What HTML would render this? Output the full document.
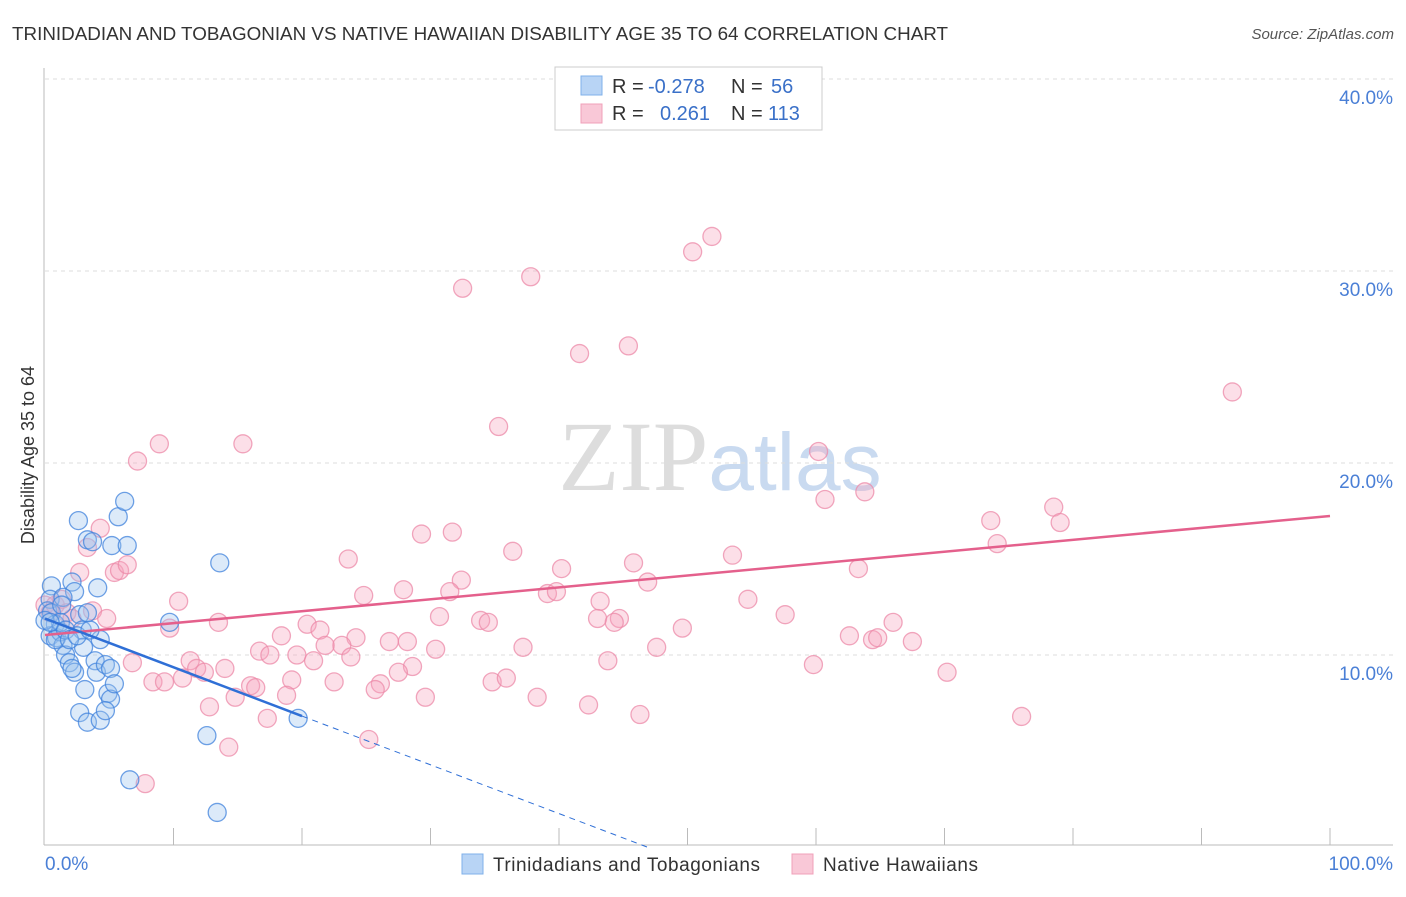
<!DOCTYPE html>
<html><head><meta charset="utf-8"><style>
body{margin:0;background:#fff;font-family:"Liberation Sans",sans-serif;}
svg text{font-family:"Liberation Sans",sans-serif;}
</style></head><body>
<svg id="chart" width="1406" height="892" xmlns="http://www.w3.org/2000/svg">
<text x="12" y="40" font-size="18" fill="#333" textLength="936" lengthAdjust="spacingAndGlyphs">TRINIDADIAN AND TOBAGONIAN VS NATIVE HAWAIIAN DISABILITY AGE 35 TO 64 CORRELATION CHART</text>
<text x="1394" y="39" font-size="15" fill="#555" font-style="italic" text-anchor="end">Source: ZipAtlas.com</text>
<text x="720" y="490" font-size="100" text-anchor="middle"><tspan fill="#ddd" font-family="Liberation Serif">ZIP</tspan><tspan fill="#c9daf0" font-size="82">atlas</tspan></text>
<text transform="translate(34,455) rotate(-90)" font-size="18" fill="#333" text-anchor="middle">Disability Age 35 to 64</text>
<g id="grid"></g><g id="axes"></g><g id="marks"></g><g id="trends"></g>
<g>
<rect x="555" y="67" width="267" height="63" fill="#fff" stroke="#ccc"/>
<rect x="581" y="76" width="21" height="19" fill="#b8d4f5" stroke="#7fb0ea"/>
<rect x="581" y="104" width="21" height="19" fill="#f9c8d7" stroke="#f0a0ba"/>
<text x="612" y="93" font-size="20" fill="#333">R = <tspan fill="#3a70c8" x="648">-0.278</tspan><tspan x="731">N = </tspan><tspan fill="#3a70c8" x="771">56</tspan></text>
<text x="612" y="120" font-size="20" fill="#333">R = <tspan fill="#3a70c8" x="660">0.261</tspan><tspan x="731">N = </tspan><tspan fill="#3a70c8" x="768">113</tspan></text>
</g>
<g>
<rect x="462" y="854" width="21" height="20" fill="#b8d4f5" stroke="#7fb0ea"/>
<text x="493" y="871" font-size="19" fill="#333" textLength="267">Trinidadians and Tobagonians</text>
<rect x="792" y="854" width="21" height="20" fill="#f9c8d7" stroke="#f0a0ba"/>
<text x="823" y="871" font-size="19" fill="#333" textLength="155">Native Hawaiians</text>
</g>
</svg>
<script>
const yTicks=[10,20,30,40];
const yTickLabels=["10.0%","20.0%","30.0%","40.0%"];
const xTickLabels=["0.0%","100.0%"];
const blueX=[0.5,0.4,0.2,0.5,0.8,0.4,0.9,1.2,1.4,1.6,1.9,2.3,2.1,2.6,3.3,3.7,5.7,6.2,5.2,6.4,2.1,2.3,1.4,1.3,2.7,2.9,3.3,4.1,4.3,3.0,3.9,4.0,4.7,5.1,3.1,4.9,5.1,5.4,2.7,3.3,4.3,4.7,9.7,13.6,12.6,6.6,13.4,19.7,1.2,0.8,0,0.4,1.6,1.9,2.5,3.5];
const blueY=[13.6,12.9,12.3,12.2,11.6,11.0,10.9,11.2,10.5,10.0,9.6,9.1,9.3,17.0,16.0,15.9,17.2,18.0,15.7,15.7,13.8,13.3,13.0,12.6,12.1,11.3,12.2,13.5,10.8,10.4,9.7,9.1,9.5,9.3,8.2,8.0,7.7,8.5,7.0,6.5,6.6,7.1,11.7,14.8,5.8,3.5,1.8,6.7,11.7,10.8,11.8,11.7,11.3,10.8,11.0,11.3];
const pinkX=[0,0.4,0.8,1.3,1.7,2.1,2.7,3.3,4.3,5.4,5.8,6.4,3.7,4.8,8.9,7.2,15.4,32.5,37.8,50.4,51.9,41.6,45.4,92.4,35.3,60.2,60.7,63.8,73.6,78.5,79.0,74.1,29.3,31.7,36.4,23.6,40.2,45.8,53.5,63.3,32.4,27.9,24.8,31.5,39.1,39.8,46.9,43.2,54.7,57.6,10.4,13.5,9.7,20.4,21.4,18.4,30.7,33.9,34.5,43.0,44.7,44.3,49.6,66.0,62.6,64.4,64.8,67.5,26.8,28.2,24.2,23.1,21.8,16.7,17.5,19.6,20.9,23.8,30.4,37.2,47.6,11.3,11.8,14.0,12.4,6.8,10.7,19.2,22.5,16.0,16.4,8.4,9.3,26.1,28.6,27.5,34.8,35.9,59.8,70.2,25.7,18.8,12.8,14.8,17.3,29.6,38.3,42.3,46.3,76.0,25.2,14.3,7.8,43.8];
const pinkY=[12.6,12.2,12.6,12.9,12.2,11.9,14.3,15.6,16.6,14.3,14.4,14.7,12.3,11.9,21.0,20.1,21.0,29.1,29.7,31.0,31.8,25.7,26.1,23.7,21.9,20.6,18.1,18.5,17.0,17.7,16.9,15.8,16.3,16.4,15.4,15.0,14.5,14.8,15.2,14.5,13.9,13.4,13.1,13.3,13.2,13.3,13.8,12.8,12.9,12.1,12.8,11.7,11.4,11.6,11.3,11.0,12.0,11.8,11.7,11.9,11.9,11.7,11.4,11.7,11.0,10.8,10.9,10.7,10.7,10.7,10.9,10.5,10.5,10.2,10.0,10.0,9.7,9.9,10.3,10.4,10.4,9.7,9.3,9.3,9.1,9.6,8.8,8.7,8.6,8.4,8.3,8.6,8.6,8.5,9.4,9.1,8.6,8.8,9.5,9.1,8.2,7.9,7.3,7.8,6.7,7.8,7.8,7.4,6.9,6.8,5.6,5.2,3.3,9.7];
const blueTrend=[11.9,-0.254];
const pinkTrend=[11.04,0.062];
const NS="http://www.w3.org/2000/svg";
const X=v=>45+v*12.85, Y=v=>847-v*19.2;
function mk(tag,attrs,parent){const e=document.createElementNS(NS,tag);for(const k in attrs)e.setAttribute(k,attrs[k]);document.getElementById(parent).appendChild(e);return e;}
yTicks.forEach((t,i)=>{
 const l=mk('line',{x1:45,x2:1393,y1:Y(t),y2:Y(t),stroke:'#ddd','stroke-dasharray':'4,4'},'grid');
 
 
 const tx=mk('text',{x:1393,y:Y(t)+25,'font-size':19,fill:'#4a7fd6','text-anchor':'end'},'axes');
 tx.textContent=yTickLabels[i];
 
 
});
const ax=mk('line',{x1:44,x2:44,y1:68,y2:845,stroke:'#bbb'},'axes');


const bx=mk('line',{x1:44,x2:1393,y1:845,y2:845,stroke:'#bbb'},'axes');


for(let i=1;i<=10;i++){const tk=mk('line',{x1:X(i*10),x2:X(i*10),y1:828,y2:845,stroke:'#bbb'},'axes');
 
 }
[[0,45,'start'],[100,1393,'end']].forEach((d,i)=>{const t=mk('text',{x:d[1],y:870,'font-size':19,fill:'#4a7fd6','text-anchor':d[2]},'axes');t.textContent=xTickLabels[i];
 
 });
function pts(xs,ys,fill,stroke,name){xs.forEach((x,i)=>{const c=mk('circle',{cx:X(x),cy:Y(ys[i]),r:9,fill:fill,'fill-opacity':0.35,stroke:stroke,'stroke-opacity':0.75,'stroke-width':1.3},'marks');
 
 });}
pts(pinkX,pinkY,'#f5a3bc','#ec8aa8','native-hawaiian-point');
pts(blueX,blueY,'#9cc3ee','#3f82dc','trinidadian-point');
const pl=mk('line',{x1:X(0),y1:Y(pinkTrend[0]),x2:X(100),y2:Y(pinkTrend[0]+pinkTrend[1]*100),stroke:'#e4608c','stroke-width':2.5},'trends');


const bl=mk('line',{x1:X(0),y1:Y(blueTrend[0]),x2:X(20),y2:Y(blueTrend[0]+blueTrend[1]*20),stroke:'#2f6fd6','stroke-width':2.5},'trends');


const x0=-blueTrend[0]/blueTrend[1];
const bd=mk('line',{x1:X(20),y1:Y(blueTrend[0]+blueTrend[1]*20),x2:X(x0),y2:Y(0),stroke:'#2f6fd6','stroke-width':1,'stroke-dasharray':'6,5'},'trends');


</script>
</body></html>
